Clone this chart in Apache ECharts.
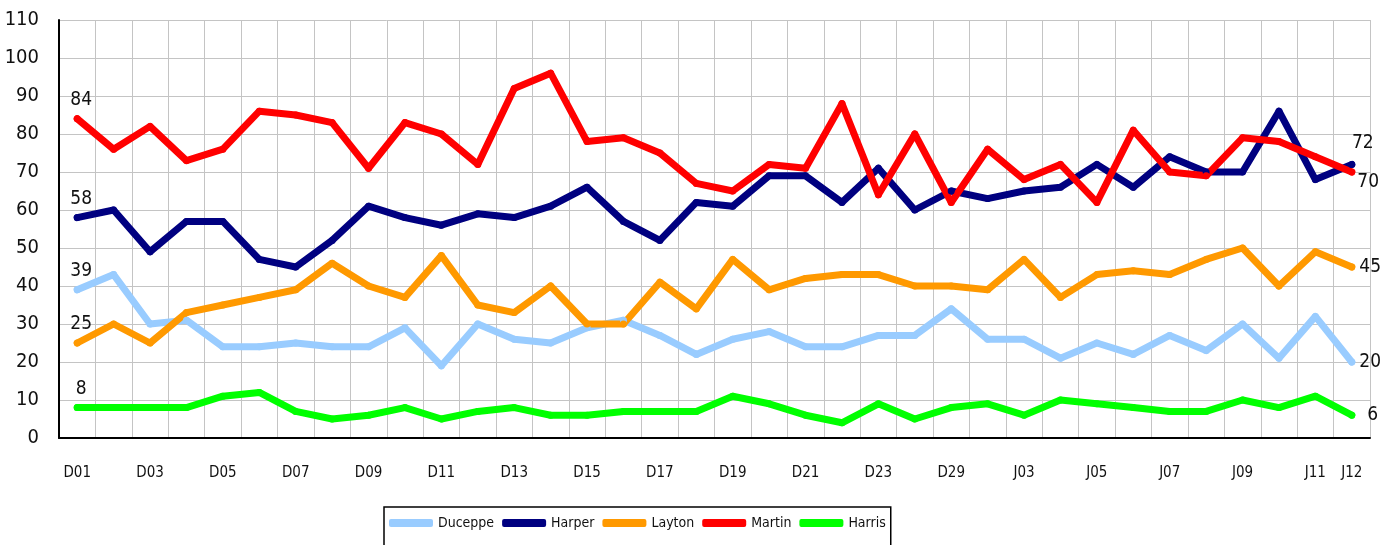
<!DOCTYPE html>
<html>
<head>
<meta charset="utf-8">
<script src="https://cdn.jsdelivr.net/npm/echarts@6/dist/echarts.min.js"></script>
<style>
  html, body { margin: 0; padding: 0; background: #fff; }
  #chart { width: 1390px; height: 545px; }
</style>
</head>
<body>
<div id="chart"></div>
<script>
var days = ['D01', 'D02', 'D03', 'D04', 'D05', 'D06', 'D07', 'D08', 'D09', 'D10',
  'D11', 'D12', 'D13', 'D14', 'D15', 'D16', 'D17', 'D18', 'D19', 'D20',
  'D21', 'D22', 'D23', 'D27', 'D29', 'J02', 'J03', 'J04', 'J05', 'J06',
  'J07', 'J08', 'J09', 'J10', 'J11', 'J12'];

var duceppe = [39, 43, 30, 31, 24, 24, 25, 24, 24, 29, 19, 30, 26, 25, 29, 31, 27, 22, 26, 28,
  24, 24, 27, 27, 34, 26, 26, 21, 25, 22, 27, 23, 30, 21, 32, 20];
var harper = [58, 60, 49, 57, 57, 47, 45, 52, 61, 58, 56, 59, 58, 61, 66, 57, 52, 62, 61, 69,
  69, 62, 71, 60, 65, 63, 65, 66, 72, 66, 74, 70, 70, 86, 68, 72];
var layton = [25, 30, 25, 33, 35, 37, 39, 46, 40, 37, 48, 35, 33, 40, 30, 30, 41, 34, 47, 39,
  42, 43, 43, 40, 40, 39, 47, 37, 43, 44, 43, 47, 50, 40, 49, 45];
var martin = [84, 76, 82, 73, 76, 86, 85, 83, 71, 83, 80, 72, 92, 96, 78, 79, 75, 67, 65, 72,
  71, 88, 64, 80, 62, 76, 68, 72, 62, 81, 70, 69, 79, 78, 74, 70];
var harris = [8, 8, 8, 8, 11, 12, 7, 5, 6, 8, 5, 7, 8, 6, 6, 7, 7, 7, 11, 9,
  6, 4, 9, 5, 8, 9, 6, 10, 9, 8, 7, 7, 10, 8, 11, 6];

var font = "'DejaVu Sans Condensed', 'Liberation Sans Narrow', sans-serif";

// labels on the first and last point of each line
function withEnds(values, lastLabel) {
  return values.map(function (v, i) {
    if (i === 0) {
      return { value: v, label: { show: true, position: 'top', distance: 6, offset: [4, 0] } };
    }
    if (i === values.length - 1) {
      return { value: v, label: Object.assign({ show: true }, lastLabel) };
    }
    return v;
  });
}

function lineSeries(name, values, color, lastLabel) {
  return {
    name: name,
    type: 'line',
    data: withEnds(values, lastLabel),
    showSymbol: true,
    showAllSymbol: true,
    symbol: 'circle',
    symbolSize: 7,
    lineStyle: { color: color, width: 7, cap: 'round', join: 'round' },
    itemStyle: { color: color },
    label: { show: false, fontFamily: font, fontSize: 19, color: '#111' },
    emphasis: { disabled: true },
    animation: false
  };
}

var chart = echarts.init(document.getElementById('chart'));

chart.setOption({
  backgroundColor: '#fff',
  grid: { left: 59, right: 20, top: 20, bottom: 107, containLabel: false },
  legend: {
    left: 384,
    top: 507,
    padding: [9, 5, 30, 5],
    borderColor: '#000',
    borderWidth: 1.5,
    itemWidth: 44,
    itemHeight: 8,
    itemGap: 8,
    icon: 'roundRect',
    textStyle: { fontFamily: font, fontSize: 14, color: '#111' },
    data: ['Duceppe', 'Harper', 'Layton', 'Martin', 'Harris']
  },
  xAxis: {
    type: 'category',
    data: days,
    boundaryGap: true,
    axisLine: { lineStyle: { color: '#000', width: 2 } },
    axisTick: { show: false },
    axisLabel: {
      interval: function (i) { return i % 2 === 0 || i === days.length - 1; },
      margin: 28,
      fontFamily: font,
      fontSize: 15,
      color: '#111'
    },
    splitLine: { show: true, interval: 0, lineStyle: { color: '#c4c4c4', width: 1 } }
  },
  yAxis: {
    type: 'value',
    min: 0,
    max: 110,
    interval: 10,
    axisLine: { show: true, lineStyle: { color: '#000', width: 2 } },
    axisTick: { show: false },
    axisLabel: { margin: 20, fontFamily: font, fontSize: 20, color: '#111' },
    splitLine: { lineStyle: { color: '#c4c4c4', width: 1 } }
  },
  series: [
    lineSeries('Duceppe', duceppe, '#99ccff', { position: 'right', distance: 4 }),
    lineSeries('Harper', harper, '#000080', { position: 'top', distance: 8, offset: [11, 0] }),
    lineSeries('Layton', layton, '#ff9900', { position: 'right', distance: 4 }),
    lineSeries('Martin', martin, '#ff0000', { position: 'right', distance: 2, offset: [0, 10] }),
    lineSeries('Harris', harris, '#00ff00', { position: 'right', distance: 12 })
  ]
});
</script>
</body>
</html>
